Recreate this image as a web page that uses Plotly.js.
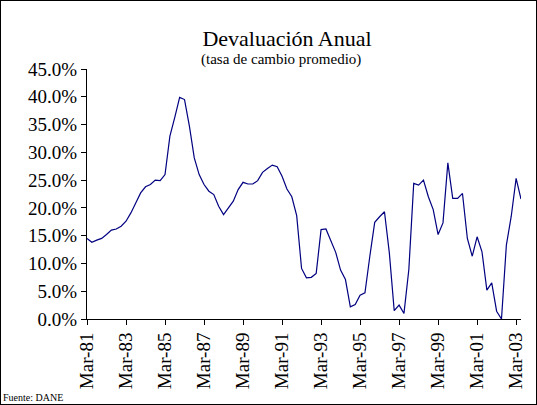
<!DOCTYPE html>
<html>
<head>
<meta charset="utf-8">
<script src="https://cdn.plot.ly/plotly-3.0.1.min.js"></script>
<style>
  html, body { margin: 0; padding: 0; background: #fff; }
  #chart { width: 535px; height: 403px; border: 1px solid #000; }
</style>
</head>
<body>
<div id="chart"></div>
<script>
// Quarter names and years for the category axis
const months = ["Mar", "Jun", "Sep", "Dic"];
const years = ["81","82","83","84","85","86","87","88","89","90","91","92","93","94","95","96","97","98","99","00","01","02","03"];

// Annual devaluation (%), quarterly, Mar-81 .. Jun-03
const devaluacion = [
  14.5, 13.8, 14.2, 14.5,
  15.2, 16.0, 16.2, 16.7,
  17.6, 19.1, 20.9, 22.7,
  23.8, 24.2, 25.0, 24.9,
  26.0, 32.9, 36.3, 39.9,
  39.5, 34.7, 29.0, 26.0,
  24.2, 23.0, 22.4, 20.3,
  18.8, 20.0, 21.2, 23.3,
  24.6, 24.3, 24.3, 24.9,
  26.4, 27.1, 27.7, 27.4,
  25.7, 23.4, 22.0, 18.6,
  9.1, 7.4, 7.5, 8.2,
  16.1, 16.2, 14.1, 12.0,
  8.8, 7.1, 2.2, 2.6,
  4.3, 4.7, 11.3, 17.4,
  18.4, 19.3, 11.9, 1.5,
  2.5, 1.0, 8.9, 24.4,
  24.1, 25.0, 22.0, 19.7,
  15.2, 17.3, 28.1, 21.7,
  21.7, 22.6, 14.5, 11.3,
  14.8, 12.1, 5.2, 6.5,
  1.4, 0.0, 13.3, 18.5,
  25.3, 21.6
];

const tickLabels = ["Mar-81","Mar-83","Mar-85","Mar-87","Mar-89","Mar-91","Mar-93","Mar-95","Mar-97","Mar-99","Mar-01","Mar-03"];

const quarters = [];
years.forEach(y => months.forEach(m => quarters.push(m + "-" + y)));
const categories = quarters.slice(0, devaluacion.length);

const serif = "Liberation Serif, Times New Roman, serif";

const trace = {
  x: categories,
  y: devaluacion,
  type: "scatter",
  mode: "lines",
  line: { color: "#000080", width: 1.2 },
  hoverinfo: "x+y"
};

const layout = {
  width: 535,
  height: 403,
  margin: { l: 86, r: 15, t: 68, b: 85 },
  paper_bgcolor: "#ffffff",
  plot_bgcolor: "#ffffff",
  showlegend: false,
  font: { family: serif, color: "#000" },
  title: {
    text: "Devaluación Anual",
    font: { family: serif, size: 22, color: "#000" },
    xref: "container", x: 286 / 535, xanchor: "center",
    yref: "container", y: 1 - 37 / 403, yanchor: "middle"
  },
  xaxis: {
    type: "category",
    range: [0, devaluacion.length - 1],
    tickmode: "array",
    tickvals: tickLabels,
    ticktext: tickLabels,
    tickangle: -90,
    ticks: "outside",
    ticklen: 5,
    tickwidth: 1,
    tickcolor: "#000",
    showline: true,
    linecolor: "#000",
    linewidth: 1,
    showgrid: false,
    zeroline: false,
    tickfont: { family: serif, size: 19, color: "#000" }
  },
  yaxis: {
    range: [0, 45],
    dtick: 5,
    tick0: 0,
    tickformat: ".1f",
    ticksuffix: "%",
    ticks: "outside",
    ticklen: 5,
    tickwidth: 1,
    tickcolor: "#000",
    showline: true,
    linecolor: "#000",
    linewidth: 1,
    showgrid: false,
    zeroline: false,
    tickfont: { family: serif, size: 19, color: "#000" }
  },
  annotations: [
    {
      text: "(tasa de cambio promedio)",
      xref: "paper", yref: "paper",
      x: (281 - 87) / 433.4, y: (319.3 - 60) / 249.8,
      xanchor: "center", yanchor: "middle",
      showarrow: false,
      font: { family: serif, size: 15, color: "#000" }
    },
    {
      text: "Fuente: DANE",
      xref: "paper", yref: "paper",
      x: (1 - 87) / 433.4, y: (319.3 - 398) / 249.8,
      xanchor: "left", yanchor: "middle",
      showarrow: false,
      font: { family: serif, size: 10, color: "#000" }
    }
  ]
};

Plotly.newPlot("chart", [trace], layout, { displayModeBar: false, staticPlot: true });
</script>
</body>
</html>
